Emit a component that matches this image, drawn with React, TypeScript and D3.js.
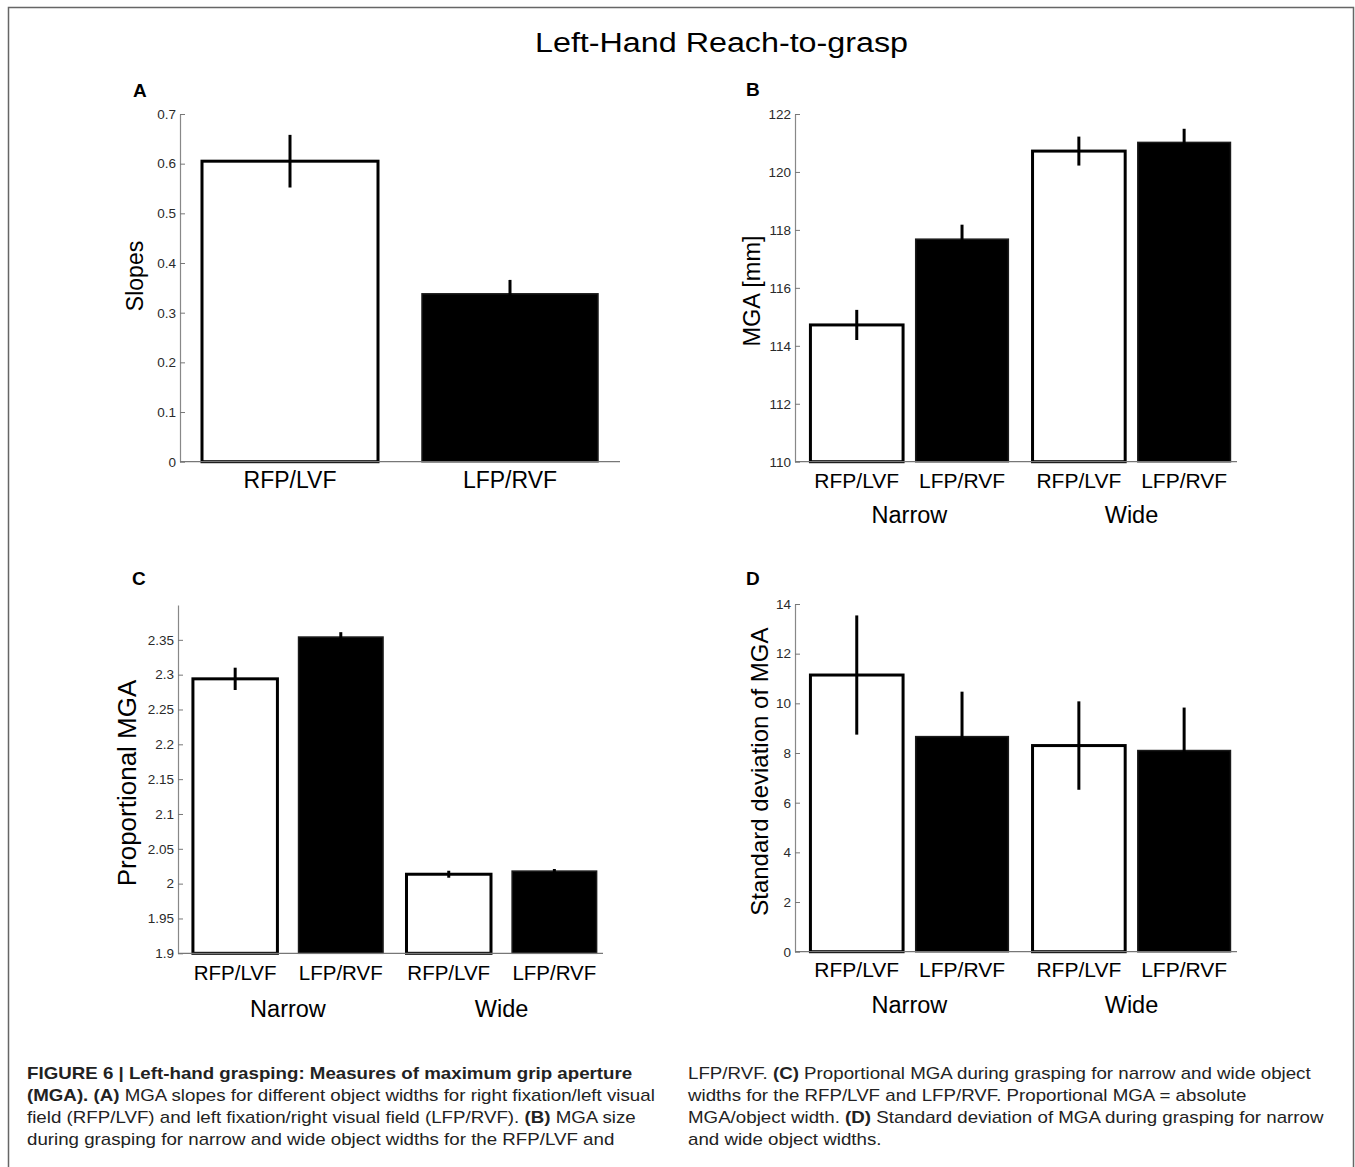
import React, { useEffect, useRef } from 'react';
import * as d3 from 'd3';

const conditions = ['RFP/LVF', 'LFP/RVF'];
const widthGroups = ['Narrow', 'Wide'];

// A: slopes per condition
const slopeMeans = [0.605, 0.338];
const slopeErrs = [0.053, 0.028];
const slopeTicks = [0, 0.1, 0.2, 0.3, 0.4, 0.5, 0.6, 0.7];

// B-D order: Narrow RFP/LVF, Narrow LFP/RVF, Wide RFP/LVF, Wide LFP/RVF
const mgaMeans = [114.72, 117.68, 120.72, 121.02];
const mgaErrs = [0.52, 0.5, 0.5, 0.47];
const mgaTicks = [110, 112, 114, 116, 118, 120, 122];

const propMeans = [2.294, 2.354, 2.0135, 2.018];
const propErrs = [0.016, 0.007, 0.005, 0.003];
const propTicks = [1.9, 1.95, 2, 2.05, 2.1, 2.15, 2.2, 2.25, 2.3, 2.35];

const sdMeans = [11.14, 8.66, 8.3, 8.1];
const sdErrs = [2.4, 1.81, 1.78, 1.73];
const sdTicks = [0, 2, 4, 6, 8, 10, 12, 14];

const FONT = '"Liberation Sans", Arial, Helvetica, sans-serif';

// caption runs: [text, bold]
const captionLeft: [string, boolean][][] = [
  [['FIGURE 6 | Left-hand grasping: Measures of maximum grip aperture', true]],
  [['(MGA). (A)', true], [' MGA slopes for different object widths for right fixation/left visual', false]],
  [['field (RFP/LVF) and left fixation/right visual field (LFP/RVF). ', false], ['(B)', true], [' MGA size', false]],
  [['during grasping for narrow and wide object widths for the RFP/LVF and', false]],
];
const captionRight: [string, boolean][][] = [
  [['LFP/RVF. ', false], ['(C)', true], [' Proportional MGA during grasping for narrow and wide object', false]],
  [['widths for the RFP/LVF and LFP/RVF. Proportional MGA = absolute', false]],
  [['MGA/object width. ', false], ['(D)', true], [' Standard deviation of MGA during grasping for narrow', false]],
  [['and wide object widths.', false]],
];

interface PanelOpts {
  letter: string;
  letterPos: [number, number];
  x0: number;
  x1: number;
  yTop: number;
  yBottom: number;
  domain: [number, number];
  ticks: number[];
  means: number[];
  errs: number[];
  grouped: boolean;
  innerPad?: number;
  yLabel: string;
  yLabelPos: [number, number];
  yLabelSize: number;
  condSize: number;
  condDy: number;
  groupDy?: number;
}

function drawPanel(svg: any, o: PanelOpts) {
  const g = svg.append('g');
  const y = d3.scaleLinear().domain(o.domain).range([o.yBottom, o.yTop]);

  let bars: { x: number; w: number; v: number; e: number; dark: boolean; label: string }[] = [];
  const groupCenters: { label: string; cx: number }[] = [];
  if (!o.grouped) {
    const x = d3.scaleBand().domain(conditions).range([o.x0, o.x1]).paddingInner(0.2).paddingOuter(0.1);
    bars = conditions.map((c, i) => ({
      x: x(c) as number, w: x.bandwidth(), v: o.means[i], e: o.errs[i], dark: i === 1, label: c,
    }));
  } else {
    const outer = d3.scaleBand().domain(widthGroups).range([o.x0, o.x1])
      .paddingInner(0.09).paddingOuter(0.04).align(0.75);
    const inner = d3.scaleBand().domain(conditions).range([0, outer.bandwidth()])
      .paddingInner(o.innerPad ?? 0.12).paddingOuter(0.02);
    widthGroups.forEach((grp, gi) => {
      groupCenters.push({ label: grp, cx: (outer(grp) as number) + outer.bandwidth() / 2 });
      conditions.forEach((c, ci) => {
        bars.push({
          x: (outer(grp) as number) + (inner(c) as number),
          w: inner.bandwidth(),
          v: o.means[gi * 2 + ci],
          e: o.errs[gi * 2 + ci],
          dark: ci === 1,
          label: c,
        });
      });
    });
  }

  // y axis, ticks pointing inward
  const yAxis = g.append('g')
    .attr('transform', `translate(${o.x0},0)`)
    .call(d3.axisLeft(y).tickValues(o.ticks).tickSizeInner(-5).tickSizeOuter(0).tickPadding(4)
      .tickFormat((d: any) => d3.format('~g')(d)));
  yAxis.select('.domain').attr('stroke', '#888').attr('stroke-width', 1.2);
  yAxis.selectAll('.tick line').attr('stroke', '#777');
  yAxis.selectAll('.tick text')
    .attr('fill', '#2a2a2a')
    .style('font-family', FONT)
    .style('font-size', '13.5px');

  // bars
  g.selectAll('rect.bar')
    .data(bars)
    .enter()
    .append('rect')
    .attr('class', 'bar')
    .attr('x', (b: any) => b.x)
    .attr('y', (b: any) => y(b.v))
    .attr('width', (b: any) => b.w)
    .attr('height', (b: any) => y(o.domain[0]) - y(b.v))
    .attr('fill', (b: any) => (b.dark ? '#000' : '#fff'))
    .attr('stroke', (b: any) => (b.dark ? '#1a1a1a' : '#000'))
    .attr('stroke-width', (b: any) => (b.dark ? 1.5 : 3));

  // x axis line
  g.append('line')
    .attr('x1', o.x0).attr('x2', o.x1)
    .attr('y1', o.yBottom).attr('y2', o.yBottom)
    .attr('stroke', '#777').attr('stroke-width', 1.2);

  // error bars
  g.selectAll('line.err')
    .data(bars)
    .enter()
    .append('line')
    .attr('class', 'err')
    .attr('x1', (b: any) => b.x + b.w / 2)
    .attr('x2', (b: any) => b.x + b.w / 2)
    .attr('y1', (b: any) => y(b.v - b.e))
    .attr('y2', (b: any) => y(b.v + b.e))
    .attr('stroke', '#000')
    .attr('stroke-width', 3);

  // condition labels
  g.selectAll('text.cond')
    .data(bars)
    .enter()
    .append('text')
    .attr('class', 'cond')
    .attr('x', (b: any) => b.x + b.w / 2)
    .attr('y', o.yBottom + o.condDy)
    .attr('text-anchor', 'middle')
    .style('font-family', FONT)
    .style('font-size', `${o.condSize}px`)
    .text((b: any) => b.label);

  g.selectAll('text.grp')
    .data(groupCenters)
    .enter()
    .append('text')
    .attr('class', 'grp')
    .attr('x', (d: any) => d.cx)
    .attr('y', o.yBottom + (o.groupDy ?? 62))
    .attr('text-anchor', 'middle')
    .style('font-family', FONT)
    .style('font-size', '23.5px')
    .text((d: any) => d.label);

  g.append('text')
    .attr('transform', `translate(${o.yLabelPos[0]},${o.yLabelPos[1]}) rotate(-90)`)
    .attr('text-anchor', 'middle')
    .attr('dy', '0.36em')
    .style('font-family', FONT)
    .style('font-size', `${o.yLabelSize}px`)
    .text(o.yLabel);

  g.append('text')
    .attr('x', o.letterPos[0])
    .attr('y', o.letterPos[1])
    .style('font-family', FONT)
    .style('font-size', '19px')
    .style('font-weight', 'bold')
    .text(o.letter);
}

function drawCaption(svg: any, lines: [string, boolean][][], x: number) {
  const g = svg.append('g').attr('transform', `translate(${x},0) scale(1.17,1)`);
  lines.forEach((runs, i) => {
    const t = g.append('text')
      .attr('x', 0)
      .attr('y', 1079 + i * 22)
      .attr('fill', '#222')
      .style('font-family', FONT)
      .style('font-size', '16px');
    runs.forEach(([txt, bold]) => {
      t.append('tspan')
        .style('font-weight', bold ? 'bold' : 'normal')
        .style('white-space', 'pre')
        .text(txt);
    });
  });
}

export default function App() {
  const ref = useRef<SVGSVGElement>(null);

  useEffect(() => {
    const svg = d3.select(ref.current);
    svg.selectAll('*').remove();

    svg.append('path')
      .attr('d', 'M8.5,1167V7.5H1353.5V1167')
      .attr('fill', 'none')
      .attr('stroke', '#666')
      .attr('stroke-width', 1.5);

    svg.append('text')
      .attr('x', 721.5)
      .attr('y', 52)
      .attr('text-anchor', 'middle')
      .attr('textLength', 373)
      .attr('lengthAdjust', 'spacingAndGlyphs')
      .style('font-family', FONT)
      .style('font-size', '27px')
      .text('Left-Hand Reach-to-grasp');

    drawPanel(svg, {
      letter: 'A', letterPos: [133, 97],
      x0: 180, x1: 620, yTop: 114, yBottom: 461.7,
      domain: [0, 0.7], ticks: slopeTicks, means: slopeMeans, errs: slopeErrs,
      grouped: false,
      yLabel: 'Slopes', yLabelPos: [135, 276], yLabelSize: 23,
      condSize: 23, condDy: 26.5,
    });

    drawPanel(svg, {
      letter: 'B', letterPos: [746, 96],
      x0: 795, x1: 1237, yTop: 114, yBottom: 461.7,
      domain: [110, 122], ticks: mgaTicks, means: mgaMeans, errs: mgaErrs,
      grouped: true, innerPad: 0.12,
      yLabel: 'MGA [mm]', yLabelPos: [752, 291], yLabelSize: 23.5,
      condSize: 21, condDy: 26.5, groupDy: 61.6,
    });

    drawPanel(svg, {
      letter: 'C', letterPos: [132, 585],
      x0: 178, x1: 603, yTop: 605, yBottom: 953.3,
      domain: [1.9, 2.4], ticks: propTicks, means: propMeans, errs: propErrs,
      grouped: true, innerPad: 0.2,
      yLabel: 'Proportional MGA', yLabelPos: [127, 783], yLabelSize: 26,
      condSize: 20.5, condDy: 26.7, groupDy: 63.4,
    });

    drawPanel(svg, {
      letter: 'D', letterPos: [746, 585],
      x0: 795, x1: 1237, yTop: 604, yBottom: 951.7,
      domain: [0, 14], ticks: sdTicks, means: sdMeans, errs: sdErrs,
      grouped: true, innerPad: 0.12,
      yLabel: 'Standard deviation of MGA', yLabelPos: [759, 771.7], yLabelSize: 24,
      condSize: 21, condDy: 25.6, groupDy: 61,
    });

    drawCaption(svg, captionLeft, 27);
    drawCaption(svg, captionRight, 688);
  }, []);

  return (
    <svg
      ref={ref}
      width={1355}
      height={1167}
      style={{ position: 'absolute', left: 0, top: 0, background: '#fff' }}
    />
  );
}
